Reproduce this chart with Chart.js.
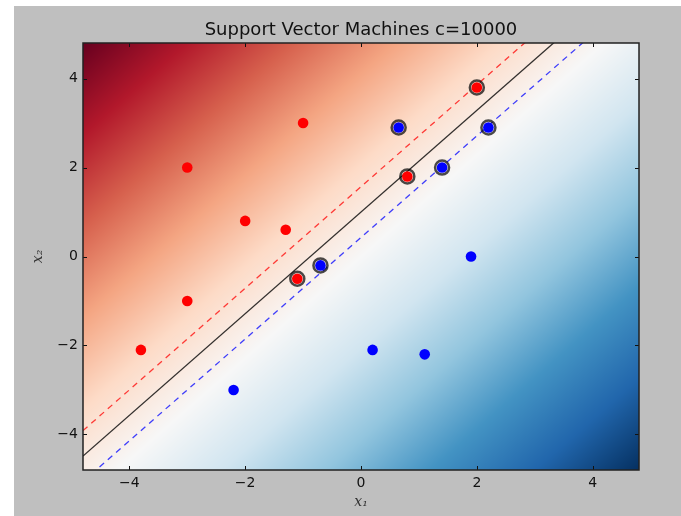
<!DOCTYPE html>
<html>
<head>
<meta charset="utf-8">
<script src="https://cdn.jsdelivr.net/npm/chart.js@4.4.1/dist/chart.umd.min.js"></script>
<style>
  html, body { margin: 0; padding: 0; background: #fff; }
  #wrap { position: relative; width: 681px; height: 516px; }
</style>
</head>
<body>
<div id="wrap"><canvas id="svm" width="681" height="516"></canvas></div>
<script>
// red class samples
const redX = [-3.8, -3.0, -3.0, -2.0, -1.3, -1.0, -1.1, 0.8, 2.0];
const redY = [-2.1, -1.0, 2.0, 0.8, 0.6, 3.0, -0.5, 1.8, 3.8];
// blue class samples
const blueX = [-2.2, 0.2, 1.1, 1.9, -0.7, 0.65, 1.4, 2.2];
const blueY = [-3.0, -2.1, -2.2, 0.0, -0.2, 2.9, 2.0, 2.9];
// support vectors
const svX = [-1.1, 0.8, 2.0, -0.7, 0.65, 1.4, 2.2];
const svY = [-0.5, 1.8, 3.8, -0.2, 2.9, 2.0, 2.9];
// decision function f = w1*x1 + w2*x2 + b
const weights = [2.0, -1.75];
const bias = 1.75;
const levels = [-1, 0, 1];
const axisMin = -4.8, axisMax = 4.8;
const tickValues = [-4, -2, 0, 2, 4];

// RdBu colormap, 11 evenly spaced stops
const rdbu = [
  [103, 0, 31], [178, 24, 43], [214, 96, 77], [244, 165, 130], [253, 219, 199],
  [247, 247, 247], [209, 229, 240], [146, 197, 222], [67, 147, 195], [33, 102, 172], [5, 48, 97]
];

function decision(x, y) {
  return weights[0] * x + weights[1] * y + bias;
}

function cmap(t) {
  t = Math.min(1, Math.max(0, t)) * (rdbu.length - 1);
  const i = Math.min(rdbu.length - 2, Math.floor(t));
  const f = t - i;
  const a = rdbu[i], b = rdbu[i + 1];
  return [a[0] + (b[0] - a[0]) * f, a[1] + (b[1] - a[1]) * f, a[2] + (b[2] - a[2]) * f];
}

// line through f = level across the x range
function levelLine(level) {
  return [axisMin, axisMax].map(x => ({ x: x, y: (level - bias - weights[0] * x) / weights[1] }));
}

const pts = (xs, ys) => xs.map((x, i) => ({ x: x, y: ys[i] }));
const minus = v => (v < 0 ? '\u2212' + Math.abs(v) : String(v));

// figure background + decision surface
const surface = {
  id: 'surface',
  beforeDraw(chart) {
    const ctx = chart.ctx;
    const a = chart.chartArea;
    const xs = chart.scales.x, ys = chart.scales.y;
    ctx.save();
    ctx.fillStyle = '#fff';
    ctx.fillRect(0, 0, chart.width, chart.height);
    ctx.fillStyle = '#bfbfbf';
    ctx.fillRect(14, 6, chart.width - 14, chart.height - 6);

    const corners = [[axisMin, axisMin], [axisMin, axisMax], [axisMax, axisMin], [axisMax, axisMax]]
      .map(p => decision(p[0], p[1]));
    const zmin = Math.min(...corners), zmax = Math.max(...corners);

    const w = Math.round(a.right - a.left), h = Math.round(a.bottom - a.top);
    const off = document.createElement('canvas');
    off.width = w; off.height = h;
    const octx = off.getContext('2d');
    const img = octx.createImageData(w, h);
    for (let py = 0; py < h; py++) {
      const y = ys.getValueForPixel(a.top + py + 0.5);
      for (let px = 0; px < w; px++) {
        const x = xs.getValueForPixel(a.left + px + 0.5);
        const c = cmap((decision(x, y) - zmin) / (zmax - zmin));
        const k = (py * w + px) * 4;
        img.data[k] = c[0]; img.data[k + 1] = c[1]; img.data[k + 2] = c[2]; img.data[k + 3] = 255;
      }
    }
    octx.putImageData(img, 0, 0);
    ctx.drawImage(off, a.left, a.top);
    ctx.restore();
  }
};

// inward ticks on all four sides and the axes frame
const frame = {
  id: 'frame',
  afterDraw(chart) {
    const ctx = chart.ctx;
    const a = chart.chartArea;
    const xs = chart.scales.x, ys = chart.scales.y;
    ctx.save();
    ctx.strokeStyle = '#111';
    ctx.lineWidth = 1;
    ctx.beginPath();
    tickValues.forEach(v => {
      const px = Math.round(xs.getPixelForValue(v)) + 0.5;
      ctx.moveTo(px, a.bottom); ctx.lineTo(px, a.bottom - 4);
      ctx.moveTo(px, a.top); ctx.lineTo(px, a.top + 4);
      const py = Math.round(ys.getPixelForValue(v)) + 0.5;
      ctx.moveTo(a.left, py); ctx.lineTo(a.left + 4, py);
      ctx.moveTo(a.right, py); ctx.lineTo(a.right - 4, py);
    });
    ctx.stroke();
    ctx.lineWidth = 1.5;
    ctx.strokeStyle = '#222';
    ctx.strokeRect(a.left, a.top, a.right - a.left, a.bottom - a.top);
    ctx.restore();
  }
};

const tickFont = { family: 'DejaVu Sans', size: 14 };

new Chart(document.getElementById('svm'), {
  type: 'scatter',
  data: {
    datasets: [
      {
        label: 'red',
        data: pts(redX, redY),
        backgroundColor: '#ff0000',
        borderWidth: 0,
        pointRadius: 5.3,
        order: 1
      },
      {
        label: 'blue',
        data: pts(blueX, blueY),
        backgroundColor: '#0000ff',
        borderWidth: 0,
        pointRadius: 5.3,
        order: 1
      },
      {
        label: 'support vectors',
        data: pts(svX, svY),
        backgroundColor: 'rgba(0,0,0,0)',
        borderColor: 'rgba(0,0,0,0.7)',
        borderWidth: 2.5,
        pointRadius: 7,
        order: 2
      },
      {
        label: 'margin red',
        data: levelLine(levels[0]),
        showLine: true,
        borderColor: 'rgba(255,0,0,0.75)',
        borderWidth: 1.3,
        borderDash: [6, 5],
        pointRadius: 0,
        order: 3
      },
      {
        label: 'boundary',
        data: levelLine(levels[1]),
        showLine: true,
        borderColor: 'rgba(0,0,0,0.8)',
        borderWidth: 1.3,
        pointRadius: 0,
        order: 3
      },
      {
        label: 'margin blue',
        data: levelLine(levels[2]),
        showLine: true,
        borderColor: 'rgba(0,0,255,0.75)',
        borderWidth: 1.3,
        borderDash: [6, 5],
        pointRadius: 0,
        order: 3
      }
    ]
  },
  options: {
    responsive: false,
    animation: false,
    events: [],
    layout: { padding: { left: 0, right: 42, top: 0, bottom: 0 } },
    plugins: {
      legend: { display: false },
      tooltip: { enabled: false },
      title: {
        display: true,
        fullSize: false,
        text: 'Support Vector Machines c=10000',
        color: '#111',
        font: { family: 'DejaVu Sans', size: 18, weight: 'normal', lineHeight: 1.2 },
        padding: { top: 19.5, bottom: 1.9 }
      }
    },
    scales: {
      x: {
        type: 'linear',
        min: axisMin,
        max: axisMax,
        grid: { display: false, drawTicks: false },
        border: { display: false },
        afterFit: s => { s.height = 46; },
        ticks: {
          stepSize: 2,
          includeBounds: false,
          padding: 5,
          color: '#111',
          font: tickFont,
          callback: v => minus(v)
        },
        title: {
          display: true,
          text: 'x\u2081',
          color: '#333',
          font: { family: 'DejaVu Serif', style: 'italic', size: 14, lineHeight: 1.2 },
          padding: { top: 0, bottom: 5.6 }
        }
      },
      y: {
        type: 'linear',
        min: axisMin,
        max: axisMax,
        grid: { display: false, drawTicks: false },
        border: { display: false },
        afterFit: s => { s.width = 83; },
        ticks: {
          stepSize: 2,
          includeBounds: false,
          padding: 5,
          color: '#111',
          font: tickFont,
          callback: v => minus(v)
        },
        title: {
          display: true,
          text: 'x\u2082',
          color: '#333',
          font: { family: 'DejaVu Serif', style: 'italic', size: 14, lineHeight: 1.2 },
          padding: { top: 29.6, bottom: 0 }
        }
      }
    }
  },
  plugins: [surface, frame]
});
</script>
</body>
</html>
